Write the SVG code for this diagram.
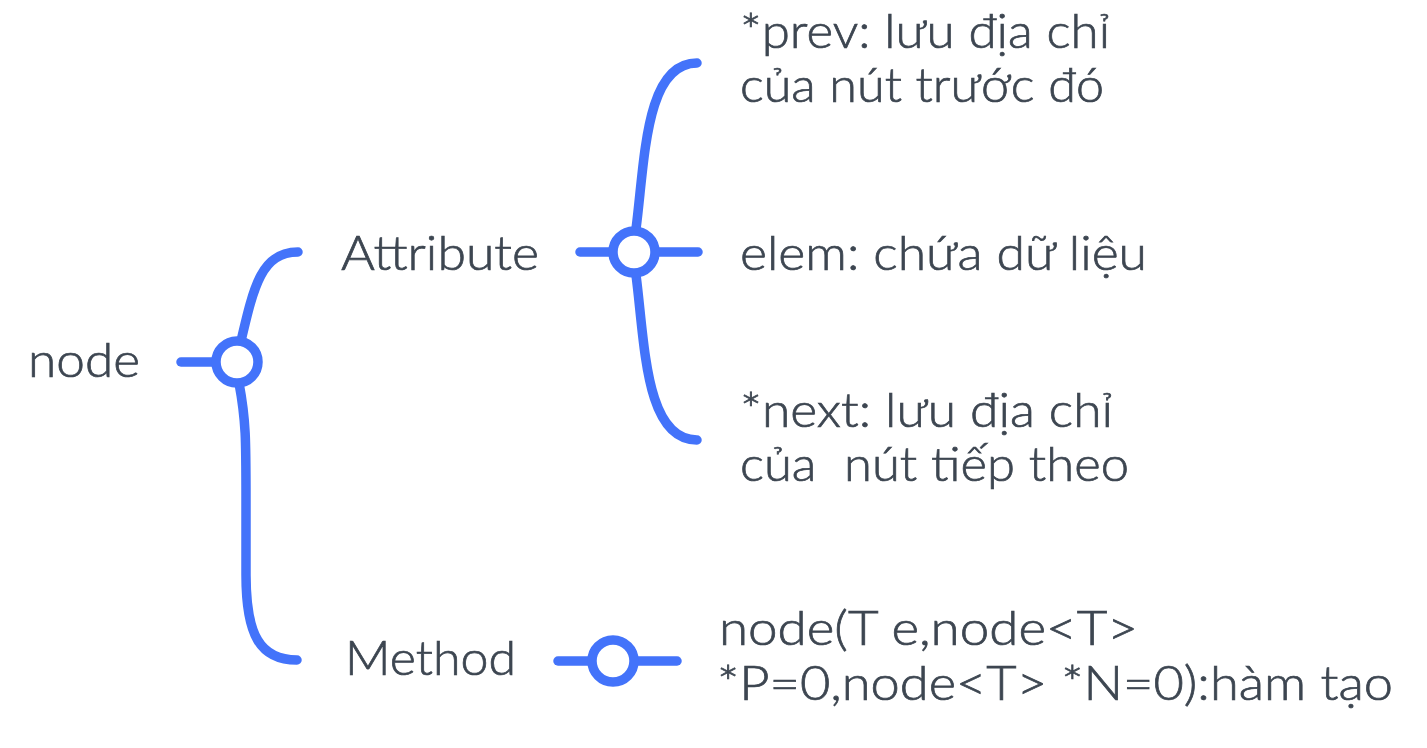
<svg xmlns="http://www.w3.org/2000/svg" width="1427" height="748" viewBox="0 0 1427 748">
<style>
.conn{fill:none;stroke:#4373fa;stroke-width:9.5;stroke-linecap:round;stroke-linejoin:round}
.knot{fill:#ffffff;stroke:#4373fa;stroke-width:9.5}
.t{font-family:Lato,"Noto Sans","DejaVu Sans",sans-serif;font-size:47px;font-weight:300;fill:#3d4651;stroke:#3d4651;stroke-width:0.7}
</style>
<rect width="1427" height="748" fill="#ffffff"/>
<g id="connectors">
<path class="conn" d="M181,362 H216"/>
<path class="conn" d="M241,341 C254,285 262,252 298,252"/>
<path class="conn" d="M239,383 C246,420 246,440 246,500 V575 C246,635 260,660 297,660"/>
<path class="conn" d="M580,252 H698"/>
<path class="conn" d="M636,229 C645,160 645,63 697,63"/>
<path class="conn" d="M636,275 C645,344 645,440 697,440"/>
<path class="conn" d="M558,661 H677"/>
</g>
<g id="node-root">
<circle class="knot" cx="237" cy="362" r="21"/>
<text class="t" x="28" y="377" textLength="112" lengthAdjust="spacingAndGlyphs">node</text>
</g>
<g id="node-attribute">
<circle class="knot" cx="634" cy="252" r="21"/>
<text class="t" x="341" y="270" textLength="198" lengthAdjust="spacingAndGlyphs">Attribute</text>
</g>
<g id="node-method">
<circle class="knot" cx="613" cy="661" r="21"/>
<text class="t" x="345" y="675" textLength="171" lengthAdjust="spacingAndGlyphs">Method</text>
</g>
<g id="node-prev">
<text class="t" x="740" y="48" textLength="370" lengthAdjust="spacingAndGlyphs">*prev: lưu địa chỉ</text>
<text class="t" x="740" y="102" textLength="364" lengthAdjust="spacingAndGlyphs">của nút trước đó</text>
</g>
<g id="node-elem">
<text class="t" x="740" y="270" textLength="407" lengthAdjust="spacingAndGlyphs">elem: chứa dữ liệu</text>
</g>
<g id="node-next">
<text class="t" x="740" y="427" textLength="373" lengthAdjust="spacingAndGlyphs">*next: lưu địa chỉ</text>
<text class="t" x="740" y="481" xml:space="preserve" textLength="389" lengthAdjust="spacingAndGlyphs">của  nút tiếp theo</text>
</g>
<g id="node-constructor">
<text class="t" x="719" y="645" textLength="419" lengthAdjust="spacingAndGlyphs">node(T e,node&lt;T&gt;</text>
<text class="t" x="717" y="700" textLength="676" lengthAdjust="spacingAndGlyphs">*P=0,node&lt;T&gt; *N=0):hàm tạo</text>
</g>
</svg>
